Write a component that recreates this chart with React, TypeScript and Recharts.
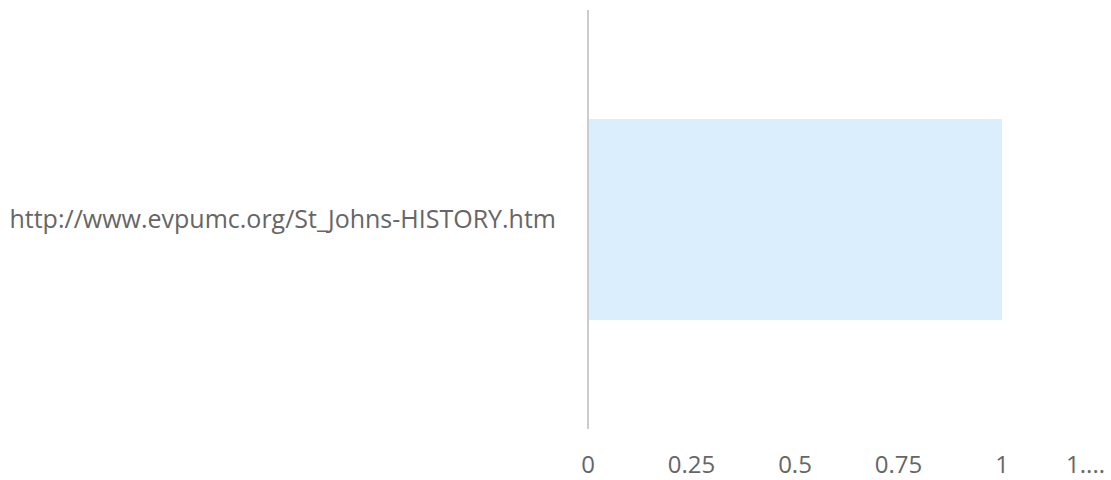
import { Bar, BarChart, XAxis, YAxis } from "recharts";

const categories = ["http://www.evpumc.org/St_Johns-HISTORY.htm"];
const values = [1];
const xTicks = [0, 0.25, 0.5, 0.75, 1, 1.25];

const data = categories.map((name, i) => ({ name, value: values[i] }));

const TICK_COLOR = "#666666";

// the last tick label is clipped in the original, so it is drawn right-aligned as "1...."
const XTick = (props: any) => {
  const { x, y, payload, index } = props;
  const last = index === xTicks.length - 1;
  return (
    <text
      x={last ? x - 0.5 : x}
      y={y}
      dy="0.71em"
      textAnchor={last ? "end" : "middle"}
      fill={TICK_COLOR}
      fontSize={24}
    >
      {last ? "1...." : String(payload.value)}
    </text>
  );
};

export default function App() {
  return (
    <div style={{ position: "absolute", left: 0, top: 0, width: 1111, height: 480, background: "#fff" }}>
      <BarChart
        width={1111}
        height={480}
        data={data}
        layout="vertical"
        margin={{ top: 10, right: 5.5, left: 0, bottom: 1 }}
        style={{ fontFamily: "'Open Sans', sans-serif" }}
      >
        <XAxis
          type="number"
          domain={[0, 1.25]}
          ticks={xTicks}
          axisLine={false}
          tickLine={false}
          height={50}
          tickMargin={21}
          interval={0}
          tick={<XTick />}
        />
        <YAxis
          type="category"
          dataKey="name"
          width={588}
          axisLine={{ stroke: "#cccccc", strokeWidth: 2 }}
          tickLine={false}
          tickMargin={26}
          tick={{ fill: TICK_COLOR, fontSize: 25 }}
        />
        <Bar dataKey="value" fill="#dbeefd" barSize={201} isAnimationActive={false} />
      </BarChart>
    </div>
  );
}
